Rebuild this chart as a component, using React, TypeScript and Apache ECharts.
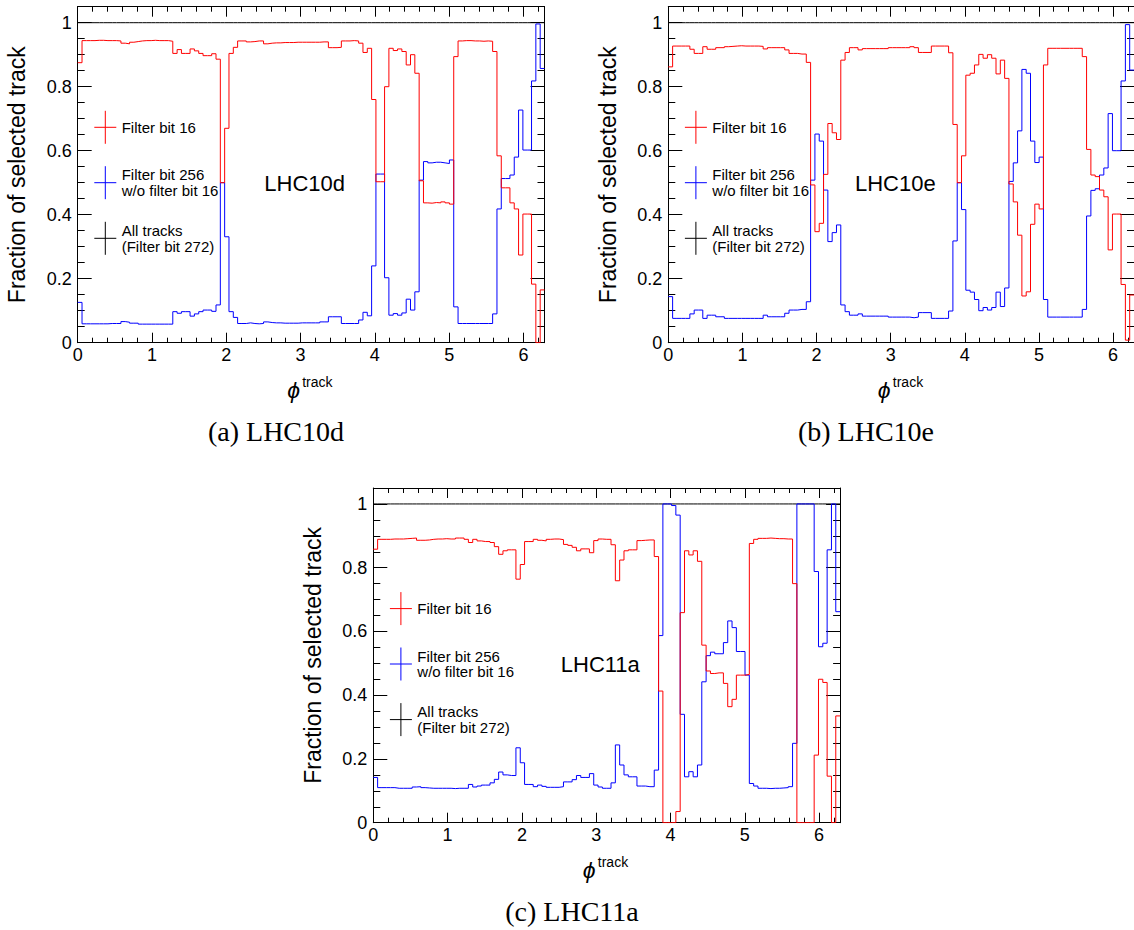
import React, { useEffect, useRef } from "react";
import * as echarts from "echarts";

// ---------- data (108 bins in phi, 0 .. 2pi) ----------
const N_BINS = 108;
const PHI_MAX = 2 * Math.PI;
const X_MAJOR_STEP = 1;
const X_MINOR_STEP = 0.2;
const Y_MAX = 1.05;
const Y_MAJOR_STEP = 0.2;
const Y_MINOR_STEP = 0.05;

const ALL_TRACKS = [
  1, 1, 1, 1, 1, 1, 1, 1, 1, 1, 1, 1, 1, 1, 1, 1, 1, 1,
  1, 1, 1, 1, 1, 1, 1, 1, 1, 1, 1, 1, 1, 1, 1, 1, 1, 1,
  1, 1, 1, 1, 1, 1, 1, 1, 1, 1, 1, 1, 1, 1, 1, 1, 1, 1,
  1, 1, 1, 1, 1, 1, 1, 1, 1, 1, 1, 1, 1, 1, 1, 1, 1, 1,
  1, 1, 1, 1, 1, 1, 1, 1, 1, 1, 1, 1, 1, 1, 1, 1, 1, 1,
  1, 1, 1, 1, 1, 1, 1, 1, 1, 1, 1, 1, 1, 1, 1, 1, 1, 1,
];

const A_RED = [
  0.875, 0.944, 0.944, 0.944, 0.945, 0.945, 0.944, 0.944, 0.944, 0.943, 0.936, 0.934,
  0.939, 0.941, 0.943, 0.944, 0.944, 0.945, 0.944, 0.944, 0.944, 0.942, 0.904, 0.916,
  0.904, 0.904, 0.918, 0.912, 0.904, 0.897, 0.897, 0.903, 0.886, 0.5, 0.67, 0.904,
  0.923, 0.943, 0.943, 0.94, 0.941, 0.943, 0.943, 0.934, 0.936, 0.937, 0.937, 0.938,
  0.938, 0.938, 0.939, 0.939, 0.939, 0.939, 0.939, 0.939, 0.94, 0.94, 0.922, 0.922,
  0.923, 0.943, 0.943, 0.944, 0.943, 0.936, 0.907, 0.92, 0.76, 0.503, 0.503, 0.8,
  0.92, 0.913, 0.918, 0.91, 0.868, 0.9, 0.842, 0.506, 0.437, 0.436, 0.438, 0.437,
  0.44, 0.437, 0.433, 0.894, 0.943, 0.944, 0.944, 0.943, 0.943, 0.942, 0.943, 0.942,
  0.91, 0.584, 0.484, 0.484, 0.437, 0.418, 0.274, 0.402, 0.402, 0.183, 0.0, 0.165,
];
const A_BLUE = [
  0.126, 0.059, 0.059, 0.059, 0.059, 0.059, 0.059, 0.06, 0.06, 0.06, 0.066, 0.064,
  0.061, 0.061, 0.058, 0.058, 0.058, 0.058, 0.058, 0.058, 0.058, 0.058, 0.097, 0.092,
  0.097, 0.097, 0.083, 0.09, 0.097, 0.102, 0.102, 0.098, 0.118, 0.5, 0.331, 0.097,
  0.079, 0.06, 0.06, 0.062, 0.06, 0.059, 0.06, 0.065, 0.063, 0.062, 0.062, 0.061,
  0.061, 0.061, 0.061, 0.062, 0.062, 0.062, 0.062, 0.062, 0.065, 0.065, 0.081, 0.081,
  0.081, 0.06, 0.06, 0.06, 0.06, 0.071, 0.095, 0.084, 0.24, 0.527, 0.527, 0.203,
  0.086, 0.091, 0.086, 0.093, 0.136, 0.102, 0.159, 0.508, 0.566, 0.562, 0.564, 0.564,
  0.562, 0.56, 0.571, 0.112, 0.06, 0.06, 0.06, 0.06, 0.06, 0.06, 0.06, 0.06,
  0.09, 0.418, 0.513, 0.513, 0.524, 0.58, 0.727, 0.602, 0.602, 0.818, 0.996, 0.857,
];

const B_RED = [
  0.862, 0.927, 0.927, 0.927, 0.927, 0.917, 0.904, 0.904, 0.925, 0.917, 0.917, 0.922,
  0.922, 0.925, 0.926, 0.927, 0.928, 0.927, 0.927, 0.927, 0.927, 0.926, 0.918, 0.922,
  0.922, 0.922, 0.922, 0.915, 0.904, 0.904, 0.902, 0.902, 0.876, 0.493, 0.347, 0.373,
  0.526, 0.685, 0.656, 0.635, 0.883, 0.907, 0.922, 0.922, 0.915, 0.919, 0.919, 0.919,
  0.919, 0.919, 0.919, 0.922, 0.922, 0.922, 0.922, 0.922, 0.925, 0.922, 0.907, 0.907,
  0.907, 0.927, 0.927, 0.927, 0.927, 0.906, 0.682, 0.5, 0.584, 0.836, 0.842, 0.868,
  0.901, 0.889, 0.9, 0.889, 0.84, 0.883, 0.826, 0.496, 0.44, 0.336, 0.146, 0.159,
  0.37, 0.433, 0.418, 0.868, 0.92, 0.92, 0.92, 0.92, 0.92, 0.92, 0.92, 0.92,
  0.894, 0.604, 0.524, 0.519, 0.477, 0.456, 0.29, 0.402, 0.402, 0.182, 0.008, 0.149,
];
const B_BLUE = [
  0.144, 0.076, 0.076, 0.076, 0.076, 0.09, 0.102, 0.102, 0.076, 0.086, 0.086, 0.081,
  0.081, 0.076, 0.076, 0.076, 0.076, 0.076, 0.076, 0.076, 0.076, 0.076, 0.086, 0.081,
  0.081, 0.081, 0.081, 0.092, 0.102, 0.102, 0.104, 0.104, 0.128, 0.508, 0.652, 0.63,
  0.477, 0.316, 0.344, 0.368, 0.118, 0.097, 0.086, 0.086, 0.09, 0.083, 0.083, 0.083,
  0.083, 0.083, 0.083, 0.08, 0.08, 0.08, 0.08, 0.08, 0.078, 0.08, 0.094, 0.094,
  0.094, 0.076, 0.076, 0.076, 0.076, 0.099, 0.318, 0.5, 0.416, 0.164, 0.158, 0.135,
  0.1, 0.11, 0.102, 0.11, 0.158, 0.113, 0.171, 0.504, 0.562, 0.662, 0.854, 0.842,
  0.63, 0.563, 0.58, 0.135, 0.08, 0.08, 0.08, 0.08, 0.08, 0.08, 0.08, 0.08,
  0.104, 0.396, 0.476, 0.481, 0.524, 0.546, 0.716, 0.6, 0.6, 0.818, 0.994, 0.852,
];

const C_RED = [
  0.858, 0.889, 0.889, 0.889, 0.89, 0.89, 0.89, 0.891, 0.892, 0.893, 0.886, 0.886,
  0.887, 0.889, 0.89, 0.89, 0.891, 0.89, 0.89, 0.893, 0.893, 0.889, 0.879, 0.889,
  0.884, 0.882, 0.882, 0.879, 0.866, 0.842, 0.853, 0.856, 0.856, 0.764, 0.81, 0.882,
  0.882, 0.889, 0.886, 0.884, 0.889, 0.89, 0.89, 0.888, 0.873, 0.87, 0.864, 0.853,
  0.859, 0.859, 0.847, 0.885, 0.89, 0.889, 0.889, 0.872, 0.759, 0.824, 0.853, 0.856,
  0.856, 0.885, 0.886, 0.887, 0.887, 0.835, 0.413, 0.0, 0.0, 0.0, 0.035, 0.659,
  0.853, 0.84, 0.853, 0.82, 0.557, 0.476, 0.468, 0.47, 0.47, 0.437, 0.364, 0.387,
  0.463, 0.463, 0.465, 0.876, 0.889, 0.892, 0.892, 0.893, 0.892, 0.891, 0.891, 0.89,
  0.89, 0.75, 0.0, 0.0, 0.0, 0.0, 0.212, 0.45, 0.44, 0.146, 0.0, 0.335,
];
const C_BLUE = [
  0.142, 0.11, 0.11, 0.11, 0.11, 0.108, 0.108, 0.108, 0.108, 0.112, 0.113, 0.11,
  0.109, 0.108, 0.108, 0.108, 0.108, 0.108, 0.107, 0.108, 0.108, 0.108, 0.12, 0.112,
  0.115, 0.118, 0.118, 0.125, 0.136, 0.159, 0.15, 0.148, 0.148, 0.235, 0.188, 0.12,
  0.12, 0.113, 0.118, 0.114, 0.111, 0.111, 0.111, 0.113, 0.128, 0.128, 0.135, 0.148,
  0.142, 0.142, 0.154, 0.118, 0.112, 0.108, 0.108, 0.125, 0.244, 0.181, 0.15, 0.144,
  0.144, 0.115, 0.115, 0.113, 0.113, 0.165, 0.587, 1.0, 1.0, 0.995, 0.965, 0.34,
  0.144, 0.16, 0.144, 0.181, 0.442, 0.524, 0.535, 0.53, 0.53, 0.565, 0.633, 0.612,
  0.537, 0.537, 0.463, 0.123, 0.115, 0.108, 0.108, 0.107, 0.108, 0.108, 0.109, 0.11,
  0.113, 0.249, 1.0, 1.0, 1.0, 1.0, 0.788, 0.552, 0.563, 0.856, 1.0, 0.662,
];

const PERIODS = ["LHC10d", "LHC10e", "LHC11a"];
const CAPTIONS = ["(a) LHC10d", "(b) LHC10e", "(c) LHC11a"];
const LEGEND_LABELS = ["Filter bit 16", "Filter bit 256\nw/o filter bit 16", "All tracks\n(Filter bit 272)"];
const Y_TITLE = "Fraction of selected track";
const X_TITLE_SYMBOL = "\u03d5";
const X_TITLE_SUP = "track";

// ---------- layout / style ----------
const SANS = "Liberation Sans, Arial, Helvetica, sans-serif";
const SERIF = "Liberation Serif, DejaVu Serif, serif";
const RED = "#ff0000";
const BLUE = "#0000ff";
const BLACK = "#000000";

const LAYOUT = [
  { left: 77.7, top: 6.7, width: 466.8, height: 336, capX: 276, capY: 431 },
  { left: 668.3, top: 6.7, width: 466.8, height: 336, capX: 866, capY: 431 },
  { left: 373.3, top: 488, width: 466.8, height: 334.7, capX: 572, capY: 911 },
];

function stepPoints(vals: number[]): number[][] {
  const w = PHI_MAX / N_BINS;
  const pts: number[][] = [];
  vals.forEach((v, i) => {
    pts.push([i * w, v]);
    pts.push([(i + 1) * w, v]);
  });
  return pts;
}

function mkX(grid: number, position: string, labels: boolean, tick: number, interval: number, line: boolean) {
  return {
    type: "value",
    gridIndex: grid,
    position,
    min: 0,
    max: PHI_MAX,
    interval,
    axisLine: { show: line, onZero: false, lineStyle: { color: BLACK, width: 1 } },
    axisTick: { show: true, inside: true, length: tick, lineStyle: { color: BLACK, width: 1 } },
    axisLabel: {
      show: labels,
      color: BLACK,
      fontSize: 18,
      fontFamily: SANS,
      margin: 3,
      showMaxLabel: false,
      showMinLabel: true,
    },
    splitLine: { show: false },
    minorTick: { show: false },
  };
}

function mkY(grid: number, position: string, labels: boolean, tick: number, interval: number, line: boolean) {
  return {
    type: "value",
    gridIndex: grid,
    position,
    min: 0,
    max: Y_MAX,
    interval,
    axisLine: { show: line, onZero: false, lineStyle: { color: BLACK, width: 1 } },
    axisTick: { show: true, inside: true, length: tick, lineStyle: { color: BLACK, width: 1 } },
    axisLabel: {
      show: labels,
      color: BLACK,
      fontSize: 18,
      fontFamily: SANS,
      margin: 6,
      showMaxLabel: false,
      showMinLabel: true,
    },
    splitLine: { show: false },
    minorTick: { show: false },
  };
}

function txt(x: number, y: number, text: string, fontSize: number, family: string, align: string, extra: any = {}) {
  return {
    type: "text",
    x,
    y,
    ...extra,
    style: {
      text,
      fill: BLACK,
      fontSize,
      fontFamily: family,
      fontStyle: extra.fontStyle || "normal",
      lineHeight: extra.lineHeight,
      align,
      verticalAlign: "middle",
      textAlign: align,
      textVerticalAlign: "middle",
    },
  };
}

function buildOption() {
  const data = [
    [A_RED, A_BLUE],
    [B_RED, B_BLUE],
    [C_RED, C_BLUE],
  ];
  const xAxis: any[] = [];
  const yAxis: any[] = [];
  const series: any[] = [];
  const graphic: any[] = [];
  const grid = LAYOUT.map((g) => ({ left: g.left, top: g.top, width: g.width, height: g.height }));

  LAYOUT.forEach((g, k) => {
    const base = k * 4;
    xAxis.push(
      mkX(k, "bottom", true, 10, X_MAJOR_STEP, true),
      mkX(k, "bottom", false, 5, X_MINOR_STEP, false),
      mkX(k, "top", false, 10, X_MAJOR_STEP, true),
      mkX(k, "top", false, 5, X_MINOR_STEP, false)
    );
    yAxis.push(
      mkY(k, "left", true, 14, Y_MAJOR_STEP, true),
      mkY(k, "left", false, 7, Y_MINOR_STEP, false),
      mkY(k, "right", false, 14, Y_MAJOR_STEP, true),
      mkY(k, "right", false, 7, Y_MINOR_STEP, false)
    );
    const lines: [string, number[], string, number][] = [
      ["All tracks", ALL_TRACKS, BLACK, 1],
      ["Filter bit 16", data[k][0], RED, 3],
      ["Filter bit 256 w/o filter bit 16", data[k][1], BLUE, 2],
    ];
    lines.forEach(([name, vals, color, z]) => {
      series.push({
        type: "line",
        name,
        xAxisIndex: base,
        yAxisIndex: base,
        data: stepPoints(vals),
        showSymbol: false,
        symbol: "none",
        silent: true,
        z,
        lineStyle: { color, width: 1 },
      });
    });

    // y-axis title
    graphic.push(txt(g.left - 60.5, g.top + g.height / 2, Y_TITLE, 23, SANS, "center", { rotation: Math.PI / 2 }));
    // x-axis title
    const xb = g.top + g.height;
    graphic.push(txt(g.left + 209.5, xb + 47, X_TITLE_SYMBOL, 23, SANS, "left", { fontStyle: "italic" }));
    graphic.push(txt(g.left + 224.5, xb + 39.5, X_TITLE_SUP, 14, SANS, "left"));
    // period label
    graphic.push(txt(g.left + 227, g.top + 176.8, PERIODS[k], 22, SANS, "center"));
    // caption
    graphic.push(txt(g.capX, g.capY, CAPTIONS[k], 28, SERIF, "center"));
    // legend
    const colors = [RED, BLUE, BLACK];
    const rowY = [120.6, 176, 231.6];
    colors.forEach((c, j) => {
      const cx = g.left + 27.6;
      const cy = g.top + rowY[j];
      graphic.push({
        type: "line",
        shape: { x1: cx - 11, y1: cy, x2: cx + 11, y2: cy },
        style: { stroke: c, lineWidth: 1 },
      });
      graphic.push({
        type: "line",
        shape: { x1: cx, y1: cy - 16.5, x2: cx, y2: cy + 16.5 },
        style: { stroke: c, lineWidth: 1 },
      });
      graphic.push(txt(g.left + 44, cy, LEGEND_LABELS[j], 15, SANS, "left", { lineHeight: 15.5 }));
    });
  });

  return {
    animation: false,
    backgroundColor: "#ffffff",
    grid,
    xAxis,
    yAxis,
    series,
    graphic: { elements: graphic },
  };
}

export default function App() {
  const ref = useRef<HTMLDivElement | null>(null);
  useEffect(() => {
    if (!ref.current) return;
    const chart = echarts.init(ref.current, undefined, { renderer: "svg" });
    chart.setOption(buildOption() as any);
    return () => chart.dispose();
  }, []);
  return (
    <div
      ref={ref}
      style={{ position: "absolute", left: 0, top: 0, width: 1134, height: 930, background: "#fff" }}
    />
  );
}
